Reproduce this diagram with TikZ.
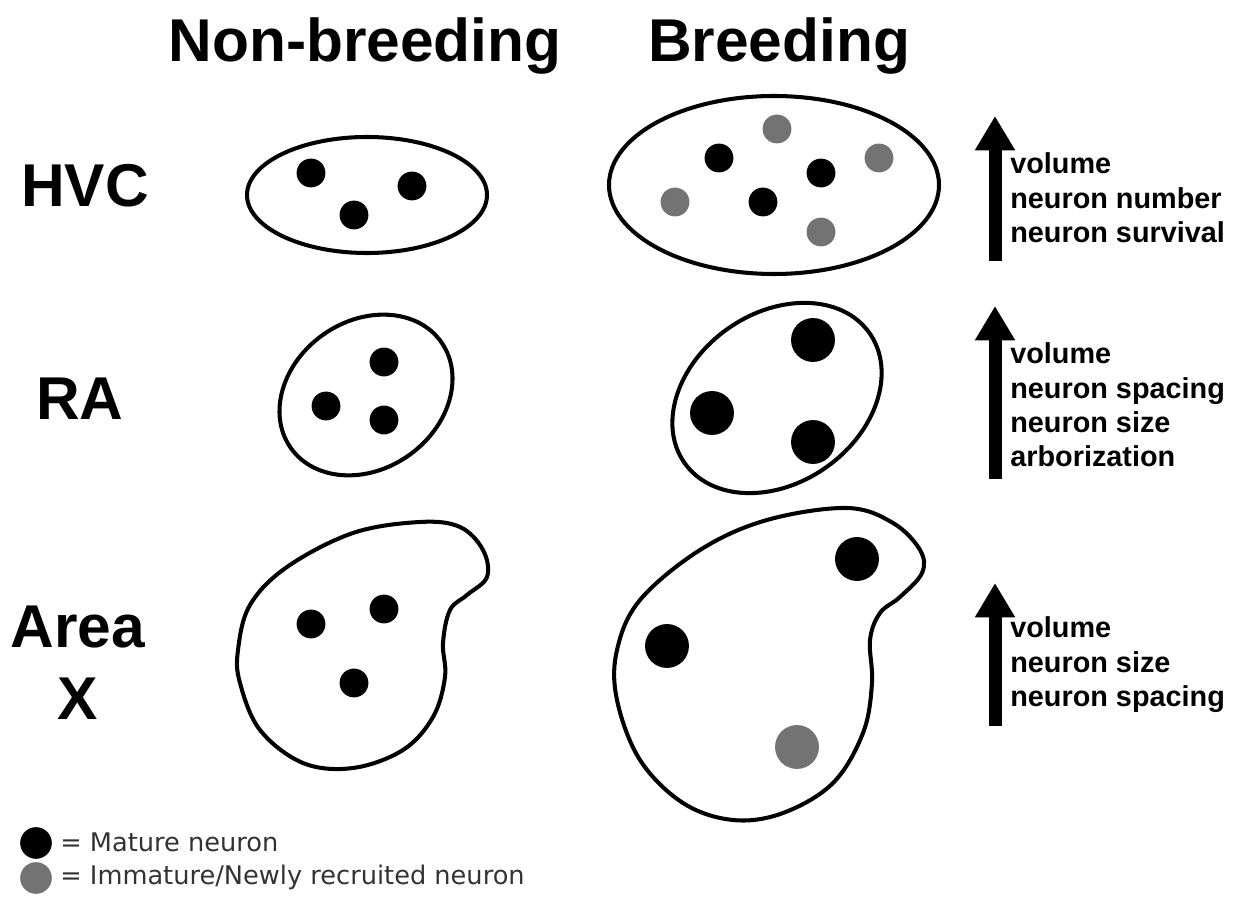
\documentclass[tikz,border=0pt]{standalone}
\usepackage{fontspec}
\setmainfont{Liberation Sans}
\newfontfamily\legendfont{DejaVu Sans}
\usetikzlibrary{arrows.meta}
\definecolor{immature}{RGB}{115,115,115}

\begin{document}
\begin{tikzpicture}[
    x=0.02cm, y=-0.02cm,
    region/.style={line width=2.3pt},
    mature/.style={circle, fill=black, inner sep=0pt, minimum size=16.4pt},
    recruit/.style={circle, fill=immature, inner sep=0pt, minimum size=16.4pt},
    bigmature/.style={mature, minimum size=25pt},
    bigrecruit/.style={recruit, minimum size=25pt},
    heading/.style={font=\bfseries\fontsize{34.4}{40}\selectfont,
                    inner sep=0pt, anchor=base},
    changes/.style={font=\bfseries\fontsize{16.4}{19.6}\selectfont,
                    align=left, anchor=west, inner sep=0pt},
    uparrow/.style={line width=7.4pt,
                    -{Triangle[width=21.5pt, length=19.5pt]}},
    legendtext/.style={font=\legendfont\fontsize{14.6}{17}\selectfont,
                       text=black!80, anchor=west, inner sep=0pt}
  ]
  \useasboundingbox (0,0) rectangle (1238,901);

  % column and row headings
  \node[heading] (nonbreed) at (365,62) {Non-breeding};
  \node[heading] (breed) at (779,62) {Breeding};
  \node[heading] (hvc) at (85,207) {HVC};
  \node[heading] (ra) at (80,420) {RA};
  \node[heading] (areaa) at (78,648) {Area};
  \node[heading] (areax) at (78,720) {X};

  % HVC
  \draw[region] (367,195) ellipse[x radius=120, y radius=58];
  \foreach \pos [count=\i] in {(311,173), (412,186), (354,215)}
    \node[mature] (hvcnb\i) at \pos {};
  \draw[region] (774,185) ellipse[x radius=165, y radius=89];
  \foreach \pos [count=\i] in {(719,158), (821,173), (763,202)}
    \node[mature] (hvcbm\i) at \pos {};
  \foreach \pos [count=\i] in {(777,129), (879,158), (675,202), (821,232)}
    \node[recruit] (hvcbr\i) at \pos {};

  % RA
  \draw[region, rotate around={35:(366,395)}]
    (366,395) ellipse[x radius=92, y radius=74];
  \foreach \pos [count=\i] in {(384,362), (326,406), (384,420)}
    \node[mature] (ranb\i) at \pos {};
  \draw[region, rotate around={35:(777,398)}]
    (777,398) ellipse[x radius=113, y radius=85];
  \foreach \pos [count=\i] in {(813,340), (712,413), (813,442)}
    \node[bigmature] (rab\i) at \pos {};

  % Area X
  \draw[region] plot[smooth cycle, tension=0.6] coordinates {
    (420,522) (460,527) (483,550) (487,577) (467,595) (450,610)
    (443,643) (445,677) (433,717) (403,750) (353,768) (303,763)
    (260,730) (240,683) (238,650) (250,605) (287,567) (353,533)};
  \foreach \pos [count=\i] in {(311,624), (384,609), (354,683)}
    \node[mature] (xnb\i) at \pos {};
  \draw[region] plot[smooth cycle, tension=0.6] coordinates {
    (847,508) (893,523) (920,550) (922,573) (900,597) (880,613)
    (870,640) (872,683) (863,733) (833,783) (783,813) (733,820)
    (683,803) (640,760) (617,700) (617,650) (640,600) (700,550)
    (767,520)};
  \node[bigmature] (xb1) at (857,559) {};
  \node[bigmature] (xb2) at (667,646) {};
  \node[bigrecruit] (xb3) at (797,747) {};

  % increases
  \coordinate (hvclow) at (995,261);
  \coordinate (hvchigh) at (995,116);
  \draw[uparrow] (hvclow) -- (hvchigh);
  \node[changes] (hvctext) at (1010,198)
    {volume\\neuron number\\neuron survival};
  \coordinate (ralow) at (995,479);
  \coordinate (rahigh) at (995,306);
  \draw[uparrow] (ralow) -- (rahigh);
  \node[changes] (ratext) at (1010,405)
    {volume\\neuron spacing\\neuron size\\arborization};
  \coordinate (xlow) at (995,726);
  \coordinate (xhigh) at (995,583);
  \draw[uparrow] (xlow) -- (xhigh);
  \node[changes] (xtext) at (1010,665)
    {volume\\neuron size\\neuron spacing};

  % legend
  \node[mature, minimum size=18pt] (keymature) at (36,843) {};
  \node[legendtext] (keymaturetext) at (60,842) {= Mature neuron};
  \node[recruit, minimum size=18pt] (keyrecruit) at (36,878) {};
  \node[legendtext] (keyrecruittext) at (60,877)
    {= Immature/Newly recruited neuron};
\end{tikzpicture}
\end{document}
